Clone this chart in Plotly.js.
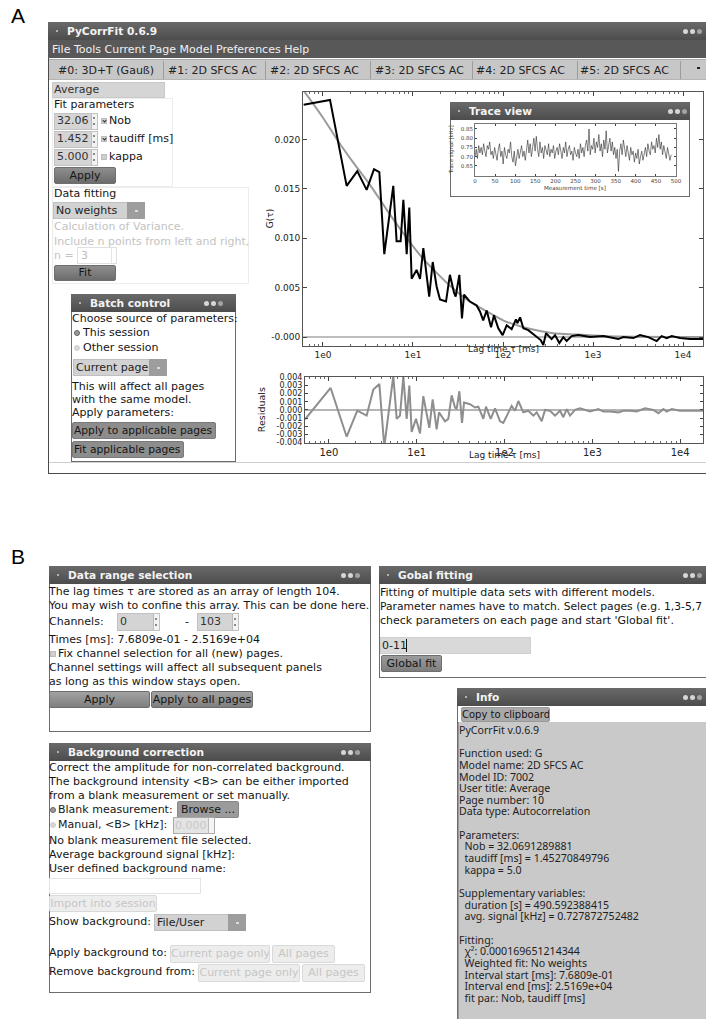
<!DOCTYPE html>
<html><head><meta charset="utf-8"><title>PyCorrFit</title>
<script src="https://cdn.plot.ly/plotly-3.0.1.min.js"></script>
<style>
html,body{margin:0;padding:0}
body{width:706px;height:1019px;overflow:hidden;position:relative;background:#fff;font-family:"DejaVu Sans",sans-serif;font-size:11px;color:#151515}
.g{position:absolute;box-sizing:border-box;white-space:nowrap}
.plot{position:absolute}
.layer{position:absolute;left:0;top:0;width:706px;height:1019px}
</style></head><body>
<div id="gui" class="layer"></div>
<div id="mainplot" class="plot" style="left:250px;top:82px;width:456px;height:290px"></div>
<div id="resplot" class="plot" style="left:250px;top:369px;width:456px;height:93px"></div>
<div id="tracewin" class="layer" style="pointer-events:none"></div>
<div id="traceplot" class="plot" style="left:445px;top:120px;width:245px;height:75px"></div>
<script>
// ---------------- data ----------------
const tauData = [0.61,1.197,1.832,2.404,3.055,3.690,4.227,4.797,6.039,6.577,7.295,7.816,8.511,9.099,9.661,10.96,11.97,13.03,15.14,16.56,18.32,19.95,23.28,25.70,28.58,29.79,32.73,34.99,36.90,42.95,50.93,55.46,60.26,65.92,73.62,79.43,88.72,99.08,109.9,124.7,139.3,144.2,154.9,168.3,191.0,217.3,240.4,262.4,280.5,300.6,346.7,378.4,422.7,467.7,509.3,579.4,687.1,926.8,1303,1683,1910,2173,2806,3327,4121,5093,5794,6590,7482,9268,11970,16830,25169];
const gData = [0.0235,0.0240,0.0153,0.0168,0.0149,0.0170,0.0167,0.0084,0.0153,0.0097,0.0097,0.0139,0.0084,0.0131,0.0059,0.0068,0.0059,0.0090,0.0041,0.0076,0.0051,0.0038,0.0036,0.0063,0.0045,0.0041,0.0063,0.0019,0.0043,0.0036,0.0032,0.0026,0.0017,0.0027,0.0010,0.0022,0.0009,0.0002,0.0012,0.0008,0.0018,0.0014,0.0020,0.0009,0.0007,0.0003,0.0000,-0.0003,-0.0008,0.0004,-0.0002,0.0002,-0.0006,0.0000,-0.0004,0.0001,0.0002,0.0000,0.0001,-0.0001,-0.0002,0.0000,-0.0001,0.0002,0.0000,-0.0004,0.0001,-0.0001,0.0001,-0.0001,-0.0002,-0.0002,-0.0002];
const tauFit = [0.604,1.0,1.432,2.193,3.388,5.093,7.816,11.97,18.32,28.05,42.66,66.07,100,154.9,234.4,363.1,549.5,1288,3020,16600,25169];
const gFit = [0.0250,0.0222,0.0200,0.0176,0.0153,0.0129,0.0105,0.0083,0.0065,0.0049,0.0036,0.0026,0.0017,0.0011,0.0007,0.0004,0.0003,0.0001,0.00003,0.0,0.0];
const tauRes = [0.535,1.047,1.594,2.107,2.692,3.206,3.753,4.276,5.415,5.916,6.453,7.043,7.690,8.241,8.762,9.818,10.91,11.89,13.92,15.20,16.87,17.94,21.0,22.9,25.0,27.3,28.5,30.6,32.8,34.6,40.5,46.1,50.3,57.4,61.5,69.5,78.0,88.9,96.9,120.5,131.8,143.6,163.7,186.7,212.9,232.4,265.0,289.1,329.6,375.8,428.5,467.7,510.4,556.9,635.1,724.1,941.9,1172,1336,1592,1978,2255,2685,3199,3981,4955,5649,6442,7031,8017,9977,12970,18370,25169];
const resid = [-0.00115,0.0027,-0.0033,-0.0001,-0.0007,0.0025,0.0032,-0.0045,0.0042,-0.0011,-0.0007,0.0041,-0.0011,0.0030,-0.0027,-0.0011,-0.0029,0.0017,-0.0022,0.0013,-0.0024,-0.0003,-0.0014,-0.0011,0.0018,0.0003,0.0001,0.0023,-0.0016,0.0009,0.0007,0.0003,0.0004,-0.0011,0.0004,-0.0011,0.0002,-0.0014,-0.0016,0.0005,-0.0001,0.0011,-0.0003,-0.0001,-0.0007,-0.0003,-0.0014,0.0000,-0.0001,-0.0007,-0.0001,-0.0009,0.0001,-0.0007,0.0000,0.0002,-0.0002,0.0001,-0.0002,-0.0002,-0.0003,-0.0001,-0.0001,-0.0002,0.0002,0.0000,-0.0004,0.0001,-0.0002,0.0001,-0.0001,-0.0001,-0.0001,-0.0001];
const traceStart = 0, traceStep = 3.05; // seconds
const traceSignal = [0.70,0.74,0.69,0.76,0.72,0.75,0.71,0.77,0.73,0.70,0.76,0.74,0.78,0.71,0.73,0.69,0.75,0.72,0.68,0.74,0.77,0.70,0.73,0.66,0.75,0.71,0.69,0.74,0.72,0.78,0.70,0.67,0.73,0.65,0.71,0.74,0.69,0.72,0.76,0.70,0.73,0.68,0.75,0.79,0.72,0.77,0.70,0.74,0.80,0.73,0.81,0.74,0.70,0.78,0.72,0.75,0.69,0.76,0.73,0.71,0.77,0.70,0.74,0.72,0.76,0.69,0.73,0.75,0.71,0.77,0.73,0.69,0.75,0.72,0.78,0.70,0.74,0.76,0.71,0.73,0.68,0.75,0.72,0.70,0.74,0.69,0.77,0.72,0.75,0.70,0.76,0.79,0.73,0.85,0.71,0.76,0.74,0.80,0.72,0.78,0.75,0.82,0.73,0.77,0.70,0.79,0.74,0.84,0.72,0.76,0.80,0.73,0.78,0.71,0.75,0.69,0.74,0.62,0.73,0.77,0.71,0.79,0.74,0.70,0.76,0.72,0.68,0.75,0.71,0.73,0.67,0.72,0.69,0.74,0.66,0.70,0.73,0.68,0.72,0.75,0.70,0.77,0.73,0.71,0.78,0.74,0.76,0.72,0.80,0.75,0.82,0.74,0.78,0.71,0.76,0.73,0.69,0.75,0.72,0.68,0.71];
const decadeTicks = [1,10,100,1000,10000];
const decadeLabels = ['1e0','1e1','1e2','1e3','1e4'];
const gTicks = [0,0.005,0.01,0.015,0.02];
const gLabels = ['-0.000','0.005','0.010','0.015','0.020'];
const resTicks = [-0.004,-0.003,-0.002,-0.001,0,0.001,0.002,0.003,0.004];
const resLabels = ['-0.004','-0.003','-0.002','-0.001','0.000','0.001','0.002','0.003','0.004'];
const trTicksX = [0,50,100,150,200,250,300,350,400,450,500];
const trTicksY = [0.65,0.70,0.75,0.80,0.85];
const trLabelsY = ['0.65','0.70','0.75','0.80','0.85'];
const infoLines = ['PyCorrFit v.0.6.9','','Function used: G','Model name: 2D SFCS AC','Model ID: 7002','User title: Average','Page number: 10','Data type: Autocorrelation','','Parameters:','  Nob = 32.0691289881','  taudiff [ms] = 1.45270849796','  kappa = 5.0','','Supplementary variables:','  duration [s] = 490.592388415','  avg. signal [kHz] = 0.727872752482','','Fitting:','  \u03c7\u00b2: 0.000169651214344','  Weighted fit: No weights','  Interval start [ms]: 7.6809e-01','  Interval end [ms]: 2.5169e+04','  fit par.: Nob, taudiff [ms]'];

// ---------------- GUI helpers ----------------
const G = document.getElementById('gui');
const TW = document.getElementById('tracewin');
function mk(p, css, t){const d=document.createElement('div');d.className='g';d.style.cssText=css;if(t!=null)d.textContent=t;p.appendChild(d);return d;}
function rect(p,x,y,w,h,css){return mk(p,`left:${x}px;top:${y}px;width:${w}px;height:${h}px;`+(css||''));}
function text(p,x,cy,s,css){return mk(p,`left:${x}px;top:${cy-7}px;height:14px;line-height:14px;`+(css||''),s);}
function dots(p,x,cy){[0,7,14].forEach((o,i)=>rect(p,x+o,cy-2.5,5,5,'border-radius:50%;background:'+(i<2?'#d6d6d6':'#a3a3a3')));}
function titlebar(p,x,y,w,title,dx){rect(p,x,y,w,18,'background:linear-gradient(#6a6a6a,#4c4c4c)');rect(p,x+8,y+8,2,2,'background:#cfcfcf;border-radius:1px');text(p,x+19,y+9,title,'color:#f3f3f3;font-weight:bold;font-size:10.6px');dots(p,dx,y+9);}
function win(p,x,y,w,h,title,dx){rect(p,x,y,w,h,'background:#fff;border:1px solid #6c6c6c');titlebar(p,x,y,w,title,dx);}
function button(p,x,y,w,h,label,css){return mk(p,`left:${x}px;top:${y}px;width:${w}px;height:${h}px;line-height:${h-2}px;text-align:center;background:linear-gradient(#a2a2a2,#7f7f7f);border:1px solid #6e6e6e;border-radius:2px;overflow:hidden;`+(css||''),label);}
function dbutton(p,x,y,w,h,label){return button(p,x,y,w,h,label,'background:#ededed;border:1px solid #d9d9d9;color:#c6c6c6');}
function arrows(p,x,y,h){rect(p,x,y,6,h,'background:#f2f2f2;border-left:1px solid #bbb');rect(p,x+2,y+h/2-4,2,2,'background:#8a8a8a');rect(p,x+2,y+h/2+2,2,2,'background:#8a8a8a');}
function field(p,x,y,w,h,val,css){const f=rect(p,x,y,w,h,'background:#d4d4d4;border:1px solid #c2c2c2;'+(css||''));text(p,x+3,y+h/2,val,'color:#333');return f;}
function spinner(p,x,y,w,h,val){field(p,x,y,w,h,val);arrows(p,x+w-7,y+1,h-2);}
function dropdown(p,x,y,w,h,val){rect(p,x,y,w,h,'background:#d2d2d2;border:1px solid #c0c0c0');text(p,x+3,y+h/2,val,'color:#222');rect(p,x+w-18,y,18,h,'background:#9d9d9d');rect(p,x+w-10,y+h/2-1,3,2,'background:#dadada');}
function check(p,x,cy,on){rect(p,x,cy-3,6,6,'background:#cfcfcf;border:1px solid #bdbdbd');if(on)rect(p,x+1.5,cy-2,3,3,'border-right:1px solid #222;border-bottom:1px solid #222;transform:rotate(40deg)');}
function radio(p,x,cy,on){rect(p,x,cy-3,6,6,'border-radius:50%;background:'+(on?'#9a9a9a':'#d8d8d8')+';border:1px solid '+(on?'#666':'#cfcfcf'));}

// labels A, B
mk(G,'left:11px;top:4px;font-family:"Liberation Sans",Arial,sans-serif;font-size:21px;line-height:24px;color:#000','A');
mk(G,'left:11px;top:545px;font-family:"Liberation Sans",Arial,sans-serif;font-size:21px;line-height:24px;color:#000','B');

// ---------------- main window ----------------
rect(G,48,22,660,452,'background:#fff;border-left:1px solid #4a4a4a;border-bottom:1px solid #4a4a4a');
titlebar(G,48,22,660,'PyCorrFit 0.6.9',683);
rect(G,48,40,660,18,'background:#585858');
text(G,52,49.5,'File Tools Current Page Model Preferences Help','color:#f0f0f0');
rect(G,49,59,657,21,'background:#c7c7c7;border-top:1px solid #aaa;border-bottom:1px solid #b5b5b5');
[[58,'#0: 3D+T (Gau\u00df)'],[168,'#1: 2D SFCS AC'],[270,'#2: 2D SFCS AC'],[375,'#3: 2D SFCS AC'],[476,'#4: 2D SFCS AC'],[580,'#5: 2D SFCS AC']].forEach(t=>text(G,t[0],70.5,t[1],'color:#222'));
[163,265,370,472,577,680].forEach(x=>rect(G,x,61,1,18,'background:#9c9c9c'));
rect(G,697,67,3,2,'background:#222');
// status bar
rect(G,49,462,657,1,'background:#cfcfcf');

// left panel
rect(G,52,82,113,16,'background:#d5d5d5;border:1px solid #c9c9c9');
text(G,54,90,'Average','color:#333');
rect(G,52,98,121,89,'border:1px solid #ececec');
text(G,54,105,'Fit parameters');
[[121,'32.06',true,'Nob'],[139,'1.452',true,'taudiff [ms]'],[157,'5.000',false,'kappa']].forEach(r=>{
  spinner(G,54,r[0]-8.5,44,17,r[1]); check(G,101,r[0],r[2]); text(G,109,r[0],r[3]);
});
button(G,54,167,62,17,'Apply','background:linear-gradient(#8e8e8e,#6c6c6c)');
rect(G,52,187,197,97,'border:1px solid #ececec');
text(G,54,194,'Data fitting');
dropdown(G,53,202,92,17,'No weights');
text(G,54,226.5,'Calculation of Variance.','color:#c3c3c3');
text(G,54,241.5,'Include n points from left and right,','color:#c3c3c3');
text(G,54,256,'n =','color:#c3c3c3');
rect(G,77,247,40,17,'background:#fff;border:1px solid #e0e0e0');
text(G,81,255.5,'3','color:#bdbdbd');
rect(G,111,248,1,15,'background:#e6e6e6');
button(G,54,265,62,16,'Fit','background:linear-gradient(#8e8e8e,#6c6c6c)');

// batch control
win(G,71,294,165,168,'Batch control',204);
text(G,72,319,'Choose source of parameters:');
radio(G,74,333,true); text(G,83,333,'This session');
radio(G,74,348,false); text(G,83,348,'Other session');
dropdown(G,73,359,94,17,'Current page');
text(G,72,387,'This will affect all pages');
text(G,72,400,'with the same model.');
text(G,72,413,'Apply parameters:');
button(G,72,422,144,17,'Apply to applicable pages','background:#8d8d8d;border:1px solid #7a7a7a;text-align:left;padding-left:1px;font-size:10.7px');
button(G,72,441,112,17,'Fit applicable pages','background:#8d8d8d;border:1px solid #7a7a7a;text-align:left;padding-left:1px;font-size:10.7px');

// ---------------- section B ----------------
win(G,49,566,322,166,'Data range selection',341);
text(G,49,592,'The lag times \u03c4 are stored as an array of length 104.');
text(G,49,606,'You may wish to confine this array. This can be done here.');
text(G,49,622,'Channels:');
spinner(G,117,613,43,18,'0');
text(G,185,622,'-');
spinner(G,197,613,42,18,'103');
text(G,49,640,'Times [ms]: 7.6809e-01  -  2.5169e+04');
check(G,50,654,false); text(G,58,654,'Fix channel selection for all (new) pages.');
text(G,49,668,'Channel settings will affect all subsequent panels');
text(G,49,682,'as long as this window stays open.');
button(G,49,691,101,17,'Apply');
button(G,151,691,102,17,'Apply to all pages');

win(G,379,566,329,112,'Gobal fitting',683);
text(G,380,593,'Fitting of multiple data sets with different models.');
text(G,380,607,'Parameter names have to match. Select pages (e.g. 1,3-5,7','font-size:10.75px');
text(G,380,621,'check parameters on each page and start \'Global fit\'.');
rect(G,380,637,151,17,'background:#d9d9d9;border:1px solid #cfcfcf');
text(G,382,645.5,'0-11','color:#222');
rect(G,406,639,1,13,'background:#111');
button(G,381,655,61,17,'Global fit','background:linear-gradient(#9c9c9c,#7e7e7e)');

win(G,49,743,322,250,'Background correction',341);
text(G,49,768,'Correct the amplitude for non-correlated background.');
text(G,49,782,'The background intensity <B> can be either imported');
text(G,49,796,'from a blank measurement or set manually.');
radio(G,50,810,true); text(G,58,810,'Blank measurement:');
button(G,177,801,62,17,'Browse ...','background:#9b9b9b;border:1px solid #888');
radio(G,50,825,false); text(G,58,825,'Manual, <B> [kHz]:');
rect(G,173,817,42,17,'background:#e4e4e4;border:1px solid #aaa');
text(G,175,825.5,'0.000','color:#c8c8c8');
rect(G,208,818,6,15,'background:#f4f4f4;border-left:1px solid #bbb');
text(G,49,841,'No blank measurement file selected.');
text(G,49,855,'Average background signal [kHz]:');
text(G,49,869,'User defined background name:');
rect(G,49,878,152,16,'background:#fff;border:1px solid #e3e3e3');
dbutton(G,49,895,108,17,'Import into session');
text(G,49,922,'Show background:');
dropdown(G,154,914,92,17,'File/User');
text(G,49,953,'Apply background to:');
dbutton(G,170,945,100,18,'Current page only');
dbutton(G,272,945,63,18,'All pages');
text(G,49,972,'Remove background from:');
dbutton(G,198,964,102,18,'Current page only');
dbutton(G,302,964,63,18,'All pages');

// info window
win(G,457,688,251,331,'Info',683);
button(G,461,707,89,15,'Copy to clipboard','background:#a9a9a9;border:1px solid #999;font-size:10px;line-height:13px');
rect(G,458,722,250,297,'background:#c9c9c9;border-left:1px solid #9a9a9a');
mk(G,'left:459px;top:724.9px;line-height:11.65px;font-family:"Noto Sans",sans-serif;font-size:10.6px;color:#1e1e1e;white-space:pre', infoLines.join('\n'));

// trace view window frame (above main plot)
win(TW,450,102,240,95,'Trace view',668);

// ---------------- plots ----------------
const minorTicks=[]; for(let d=-1;d<=5;d++) for(let m=2;m<=9;m++) minorTicks.push(m*Math.pow(10,d));
const F = 'DejaVu Sans, sans-serif';
const cfg = {staticPlot:true, displayModeBar:false};
function logAxis(range, size){
  return {type:'log', range:range, tickmode:'array', tickvals:decadeTicks, ticktext:decadeLabels,
    ticks:'inside', ticklen:4, tickcolor:'#444', showline:true, linecolor:'#555', linewidth:1, mirror:'ticks',
    showgrid:false, zeroline:false, tickfont:{family:F,size:size,color:'#222'}, ticklabeloverflow:'allow',
    minor:{ticks:'inside', ticklen:2, tickcolor:'#666', tickvals:minorTicks, showgrid:false}};
}
Plotly.newPlot('mainplot', [
  {x:tauFit, y:gFit, type:'scatter', mode:'lines', line:{color:'#9b9b9b', width:2, shape:'spline', smoothing:0.7}, hoverinfo:'skip'},
  {x:tauData, y:gData, type:'scatter', mode:'lines', line:{color:'#000', width:2}, hoverinfo:'skip'}
], {
  width:456, height:290, margin:{l:53,r:3,t:10,b:26}, showlegend:false,
  paper_bgcolor:'rgba(0,0,0,0)', plot_bgcolor:'#fff', font:{family:F},
  xaxis: logAxis([-0.222,4.222], 9),
  yaxis: {range:[-0.0009,0.0248], tickmode:'array', tickvals:gTicks, ticktext:gLabels, ticks:'inside', ticklen:4, tickcolor:'#444',
    showline:true, linecolor:'#555', mirror:'ticks', showgrid:false, zeroline:true, zerolinecolor:'#bdbdbd', zerolinewidth:1.5,
    tickfont:{family:F,size:9,color:'#222'}, ticklabeloverflow:'allow'},
  annotations:[
    {xref:'paper', yref:'paper', x:-0.082, y:0.5, text:'G(\u03c4)', showarrow:false, textangle:-90, xanchor:'center', yanchor:'middle', font:{family:F,size:9,color:'#222'}},
    {xref:'paper', yref:'paper', x:0.5025, y:-0.012, text:'Lag time \u03c4 [ms]', showarrow:false, xanchor:'center', yanchor:'middle', font:{family:F,size:9,color:'#222'}}
  ]
}, cfg);

Plotly.newPlot('resplot', [
  {x:tauRes, y:resid, type:'scatter', mode:'lines', line:{color:'#8e8e8e', width:2}, hoverinfo:'skip'}
], {
  width:456, height:93, margin:{l:55,r:3,t:8,b:19}, showlegend:false,
  paper_bgcolor:'rgba(0,0,0,0)', plot_bgcolor:'#fff', font:{family:F},
  xaxis: logAxis([-0.272,4.26], 10),
  yaxis: {range:[-0.00407,0.00405], tickmode:'array', tickvals:resTicks, ticktext:resLabels, ticks:'inside', ticklen:3, tickcolor:'#444',
    showline:true, linecolor:'#555', mirror:'ticks', showgrid:false, zeroline:true, zerolinecolor:'#b5b5b5', zerolinewidth:1.2,
    tickfont:{family:F,size:8,color:'#222'}, ticklabeloverflow:'allow'},
  annotations:[
    {xref:'paper', yref:'paper', x:-0.11, y:0.5, text:'Residuals', showarrow:false, textangle:-90, xanchor:'center', yanchor:'middle', font:{family:F,size:9.5,color:'#222'}},
    {xref:'paper', yref:'paper', x:0.5, y:-0.18, text:'Lag time \u03c4 [ms]', showarrow:false, xanchor:'center', yanchor:'middle', font:{family:F,size:9,color:'#222'}}
  ]
}, cfg);

Plotly.newPlot('traceplot', [
  {x0:traceStart, dx:traceStep, y:traceSignal, type:'scatter', mode:'lines', line:{color:'#2a2a2a', width:0.6}, hoverinfo:'skip'}
], {
  width:245, height:75, margin:{l:30,r:14,t:4,b:19}, showlegend:false,
  paper_bgcolor:'rgba(0,0,0,0)', plot_bgcolor:'#fff', font:{family:F},
  xaxis:{range:[0,500], tickmode:'array', tickvals:trTicksX, ticks:'inside', ticklen:2, tickcolor:'#444', showline:true, linecolor:'#555', linewidth:0.8, mirror:'ticks',
    showgrid:false, zeroline:false, tickfont:{family:F,size:5.5,color:'#444'}, ticklabeloverflow:'allow'},
  yaxis:{range:[0.595,0.877], tickmode:'array', tickvals:trTicksY, ticktext:trLabelsY, ticks:'inside', ticklen:2, tickcolor:'#444', showline:true, linecolor:'#555', linewidth:0.8, mirror:'ticks',
    showgrid:false, zeroline:false, tickfont:{family:F,size:5.5,color:'#444'}, ticklabeloverflow:'allow'},
  annotations:[
    {xref:'paper', yref:'paper', x:0.4975, y:-0.23, text:'Measurement time [s]', showarrow:false, xanchor:'center', yanchor:'middle', font:{family:F,size:5.6,color:'#444'}},
    {xref:'paper', yref:'paper', x:-0.118, y:0.5, text:'Trace signal [kHz]', showarrow:false, textangle:-90, xanchor:'center', yanchor:'middle', font:{family:F,size:5.4,color:'#444'}}
  ]
}, cfg);
</script>
</body></html>
